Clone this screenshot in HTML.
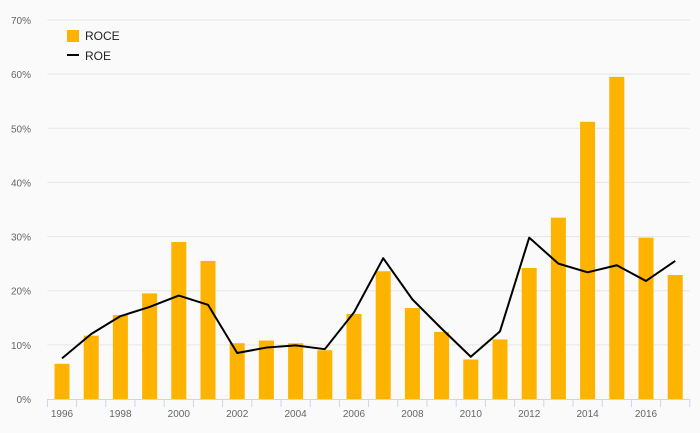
<!DOCTYPE html>
<html><head><meta charset="utf-8"><style>
body{margin:0;background:#fafafa;}
svg{display:block;font-family:"Liberation Sans",sans-serif;}
</style></head><body>
<svg id="chart" width="700" height="433">
<rect width="700" height="433" fill="#fafafa"/>
<g id="grid"></g><g id="bars"></g><g id="line"></g><g id="xaxis"></g><g id="yaxis"></g>
<g>
<rect x="67" y="30" width="12" height="12" fill="#fdb300"/>
<text x="85" y="40" font-size="12" fill="#222">ROCE</text>
<line x1="67" y1="55" x2="79" y2="55" stroke="#000" stroke-width="2"/>
<text x="85" y="60" font-size="12" fill="#222">ROE</text>
</g>
</svg>
<script>
const years=[1996,1997,1998,1999,2000,2001,2002,2003,2004,2005,2006,2007,2008,2009,2010,2011,2012,2013,2014,2015,2016,2017];
const roce=[6.5,11.7,15.5,19.5,29,25.5,10.3,10.8,10.3,9,15.7,23.6,16.8,12.4,7.3,11,24.2,33.5,51.2,59.5,29.8,22.9];
const roe=[7.5,12,15.3,17,19.1,17.4,8.5,9.5,9.9,9.2,16,26,18.4,13,7.8,12.5,29.8,25,23.4,24.7,21.8,25.5];
const yTicks=[0,10,20,30,40,50,60,70];
const NS="http://www.w3.org/2000/svg";
const x0=47.4,x1=689.8,y0=399,y1=20,ymax=70;
const step=(x1-x0)/years.length;
const xs=i=>x0+step*(i+0.5);
const ys=v=>y0-(v/ymax)*(y0-y1);
function mk(tag,attrs,parent){const e=document.createElementNS(NS,tag);for(const k in attrs)e.setAttribute(k,attrs[k]);parent.appendChild(e);return e;}
const g=document.getElementById('grid'),b=document.getElementById('bars'),l=document.getElementById('line'),xa=document.getElementById('xaxis'),ya=document.getElementById('yaxis');
yTicks.forEach(t=>{
 if(t>0){const ln=mk('line',{x1:x0,x2:x1,y1:ys(t),y2:ys(t),stroke:'#e6e6e6','stroke-width':1},g);
 
 }
 const tx=mk('text',{x:31,y:ys(t)+4,'font-size':10,fill:'#666','text-anchor':'end'},ya);
 tx.textContent=t+'%';
 
 
});
const ax=mk('line',{x1:x0,x2:x1,y1:y0+0.5,y2:y0+0.5,stroke:'#ccd6eb','stroke-width':1},xa);


years.forEach((yr,i)=>{
 const tk=mk('line',{x1:x0+step*i,x2:x0+step*i,y1:y0,y2:y0+8,stroke:'#ccd6eb'},xa);
 
 
 if(i%2===0){const t=mk('text',{x:xs(i),y:417,'font-size':10,fill:'#666','text-anchor':'middle'},xa);
 t.textContent=yr;
 
 }
 const r=mk('rect',{x:xs(i)-7.5,y:ys(roce[i]),width:15,height:y0-ys(roce[i]),fill:'#fdb300'},b);
 
 
});
const tk=mk('line',{x1:x1,x2:x1,y1:y0,y2:y0+8,stroke:'#ccd6eb'},xa);


const p=mk('polyline',{points:roe.map((v,i)=>xs(i)+','+ys(v)).join(' '),fill:'none',stroke:'#000','stroke-width':2,'stroke-linejoin':'round'},l);


</script>
</body></html>
